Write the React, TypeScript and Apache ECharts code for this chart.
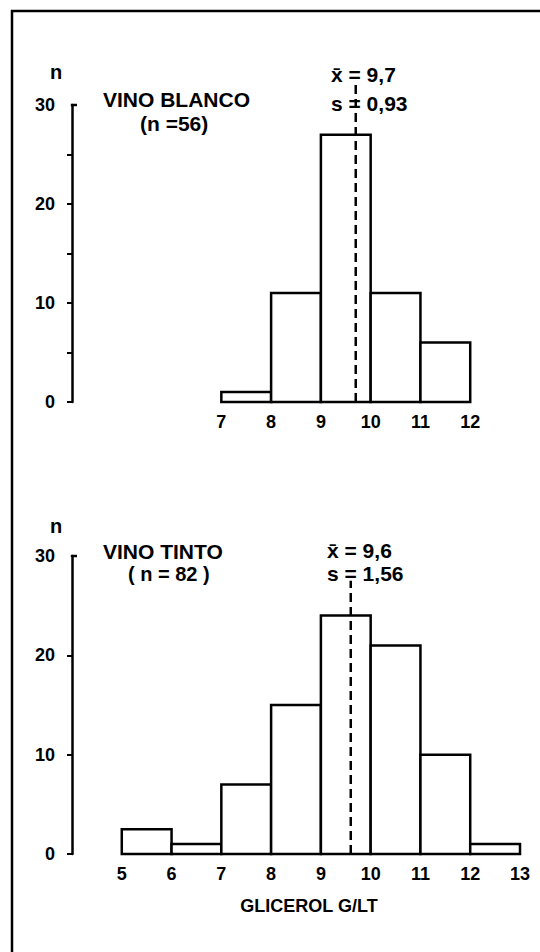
import React, { useEffect, useRef } from "react";
import * as echarts from "echarts";

// ---- data ----
const blancoEdges = [7, 8, 9, 10, 11, 12];
const blancoCounts = [1, 11, 27, 11, 6];
const blancoMean = 9.7;

const tintoEdges = [5, 6, 7, 8, 9, 10, 11, 12, 13];
const tintoCounts = [2.5, 1, 7, 15, 24, 21, 10, 1];
const tintoMean = 9.6;

const blancoXLabels = [7, 8, 9, 10, 11, 12];
const tintoXLabels = [5, 6, 7, 8, 9, 10, 11, 12, 13];
const yLabels = [0, 10, 20, 30];
const blancoYTicks = [0, 5, 10, 15, 20, 25];
const tintoYTicks = [0, 10, 20];

const FONT = "'Liberation Sans', Arial, sans-serif";

function bins(edges: number[], counts: number[]) {
  return counts.map((c, i) => [edges[i], edges[i + 1], c]);
}

const histRender = (params: any, api: any) => {
  const x0 = api.value(0);
  const x1 = api.value(1);
  const v = api.value(2);
  const p0 = api.coord([x0, 0]);
  const p1 = api.coord([x1, v]);
  return {
    type: "rect",
    shape: { x: p0[0], y: p1[1], width: p1[0] - p0[0], height: p0[1] - p1[1] },
    style: { fill: "#fff", stroke: "#000", lineWidth: 2.5 },
  };
};

const meanRender = (params: any, api: any) => {
  const x = api.value(0);
  const a = api.coord([x, api.value(1)]);
  const b = api.coord([x, api.value(2)]);
  return {
    type: "line",
    shape: { x1: a[0], y1: a[1], x2: b[0], y2: b[1] },
    style: { stroke: "#000", lineWidth: 2.5, lineDash: [9, 5] },
    z2: 10,
  };
};

const hookRender = (params: any, api: any) => {
  const p = api.coord([api.value(0), api.value(1)]);
  return {
    type: "line",
    shape: { x1: p[0] - 1.2, y1: p[1], x2: p[0] + 5, y2: p[1] },
    style: { stroke: "#000", lineWidth: 2.5 },
  };
};

function xAxisFor(gridIndex: number, labels: number[]) {
  return {
    type: "value",
    gridIndex,
    min: 4,
    max: 13,
    interval: 1,
    axisLine: { show: false },
    axisTick: { show: false },
    splitLine: { show: false },
    axisLabel: {
      customValues: labels,
      margin: 11,
      color: "#000",
      fontSize: 18,
      fontWeight: "bold",
      fontFamily: FONT,
    },
  };
}

function yAxisFor(gridIndex: number, ticks: number[], interval: number) {
  return {
    type: "value",
    gridIndex,
    min: 0,
    max: 30,
    interval,
    axisLine: { show: true, lineStyle: { color: "#000", width: 2.5 } },
    axisTick: {
      show: true,
      customValues: ticks,
      length: 5,
      lineStyle: { color: "#000", width: 2 },
    },
    splitLine: { show: false },
    axisLabel: {
      customValues: yLabels,
      margin: 17,
      color: "#000",
      fontSize: 18,
      fontWeight: "bold",
      fontFamily: FONT,
    },
  };
}

function txt(text: string, x: number, y: number, size: number, align = "left", weight = "bold") {
  return {
    type: "text",
    x,
    y,
    z: 20,
    style: {
      text,
      fill: "#000",
      font: `${weight} ${size}px ${FONT}`,
      textAlign: align,
      textVerticalAlign: "middle",
    },
  };
}

export default function App() {
  const ref = useRef<HTMLDivElement>(null);
  useEffect(() => {
    if (!ref.current) return;
    const chart = echarts.init(ref.current, undefined, { renderer: "svg" });
    chart.setOption({
      animation: false,
      backgroundColor: "#fff",
      grid: [
        { left: 72, right: 20, top: 105, height: 297 },
        { left: 72, right: 20, top: 556, height: 298 },
      ],
      xAxis: [xAxisFor(0, blancoXLabels), xAxisFor(1, tintoXLabels)],
      yAxis: [yAxisFor(0, blancoYTicks, 5), yAxisFor(1, tintoYTicks, 10)],
      series: [
        {
          type: "custom",
          name: "Vino blanco",
          xAxisIndex: 0,
          yAxisIndex: 0,
          renderItem: histRender,
          encode: { x: [0, 1], y: 2 },
          data: bins(blancoEdges, blancoCounts),
        },
        {
          type: "custom",
          xAxisIndex: 0,
          yAxisIndex: 0,
          renderItem: meanRender,
          encode: { x: 0, y: [1, 2] },
          data: [[blancoMean, 0, 32.5]],
          z: 5,
        },
        {
          type: "custom",
          xAxisIndex: 0,
          yAxisIndex: 0,
          renderItem: hookRender,
          encode: { x: 0, y: 1 },
          data: [[4, 30]],
        },
        {
          type: "custom",
          name: "Vino tinto",
          xAxisIndex: 1,
          yAxisIndex: 1,
          renderItem: histRender,
          encode: { x: [0, 1], y: 2 },
          data: bins(tintoEdges, tintoCounts),
        },
        {
          type: "custom",
          xAxisIndex: 1,
          yAxisIndex: 1,
          renderItem: meanRender,
          encode: { x: 0, y: [1, 2] },
          data: [[tintoMean, 0, 27.5]],
          z: 5,
        },
        {
          type: "custom",
          xAxisIndex: 1,
          yAxisIndex: 1,
          renderItem: hookRender,
          encode: { x: 0, y: 1 },
          data: [[4, 30]],
        },
      ],
      graphic: [
        {
          type: "rect",
          shape: { x: 12, y: 11, width: 600, height: 1000 },
          style: { fill: "none", stroke: "#000", lineWidth: 2.5 },
          z: 1,
        },
        txt("n", 56, 72, 20, "center"),
        txt("VINO BLANCO", 103, 99, 21),
        txt("(n =56)", 140, 123, 21),
        txt("x\u0304 = 9,7", 331, 74, 21),
        txt("s = 0,93", 331, 103, 21),
        txt("n", 56, 526, 20, "center"),
        txt("VINO TINTO", 103, 551, 21),
        txt("( n = 82 )", 128, 574, 20),
        txt("x\u0304 = 9,6", 327, 550, 21),
        txt("s = 1,56", 327, 573, 21),
        txt("GLICEROL G/LT", 309, 906, 18, "center", "bold"),
      ],
    });
    return () => chart.dispose();
  }, []);
  return (
    <div
      ref={ref}
      style={{ position: "absolute", left: 0, top: 0, width: 540, height: 952 }}
    />
  );
}
